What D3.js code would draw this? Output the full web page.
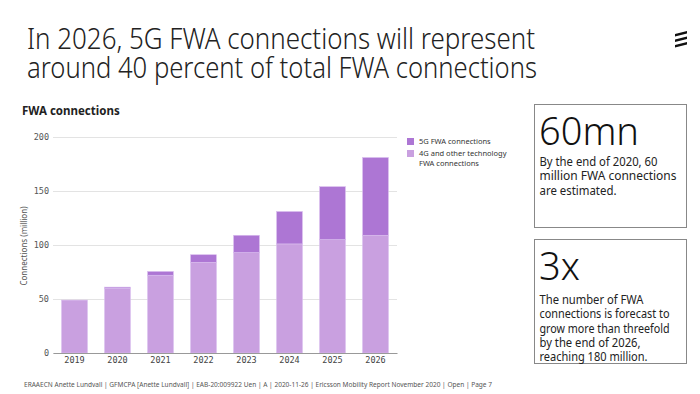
<!DOCTYPE html>
<html>
<head>
<meta charset="utf-8">
<script src="https://cdn.jsdelivr.net/npm/d3@7"></script>
<style>
  body { margin: 0; background: #fff; }
  text { font-family: "Noto Sans", sans-serif; }
  .mono { font-family: "DejaVu Sans Mono", monospace; }
</style>
</head>
<body>
<div id="my_dataviz"></div>
<script>
// data (million connections)
const years = ["2019", "2020", "2021", "2022", "2023", "2024", "2025", "2026"];
const fwa4g = [49, 60, 72, 84, 93, 101, 105, 109];
const fwa5g = [0, 1, 3.5, 7, 16, 30, 49, 72];
const yTicks = [0, 50, 100, 150, 200];
const seriesNames = ["5G FWA connections", "4G and other technology|FWA connections"];

const col5g = "#ad76d4", col4g = "#c9a0e0";

const svg = d3.select("#my_dataviz")
  .append("svg")
    .attr("width", 700)
    .attr("height", 394);

svg.append("rect").attr("width", 700).attr("height", 394).attr("fill", "#fff");

// headline (the original face is narrow, so squeeze to the same width)
const titleLines = [
  {s: "In 2026, 5G FWA connections will represent", y: 48.5, w: 508},
  {s: "around 40 percent of total FWA connections", y: 78, w: 510}
];
titleLines.forEach(function(l) {
  svg.append("text")
    .attr("x", 27)
    .attr("y", l.y)
    .attr("textLength", l.w)
    .attr("lengthAdjust", "spacingAndGlyphs")
    .style("font-size", "29px")
    .style("font-weight", 300)
    .attr("fill", "#222")
    .text(l.s);
});

// logo
const logo = svg.append("g").attr("transform", "translate(675,31)");
[0, 5.5, 11].forEach(function(dy) {
  logo.append("path")
    .attr("d", `M0,${dy + 3} L12,${dy} L12,${dy + 2.6} L0,${dy + 5.6} Z`)
    .attr("fill", "#111");
});

svg.append("text")
  .attr("x", 22).attr("y", 115)
  .style("font-size", "11.5px")
  .style("font-weight", 700)
  .attr("fill", "#222")
  .text("FWA connections");

// scales
const x = d3.scaleBand()
  .domain(years)
  .range([53, 397])
  .paddingInner(0.4)
  .paddingOuter(0.2);

const y = d3.scaleLinear()
  .domain([0, 200])
  .range([353, 137]);

// grid + y labels
const yAxis = svg.append("g")
  .attr("transform", "translate(53,0)")
  .call(d3.axisLeft(y).tickValues(yTicks).tickSize(-344).tickPadding(4));
yAxis.select(".domain").remove();
yAxis.selectAll(".tick line").attr("stroke", "#e3e3e3");
yAxis.selectAll(".tick text")
  .attr("class", "mono")
  .style("font-size", "8.5px")
  .attr("fill", "#555");

svg.append("text")
  .attr("transform", "translate(27,246) rotate(-90)")
  .attr("text-anchor", "middle")
  .style("font-size", "8px")
  .attr("fill", "#555")
  .text("Connections (million)");

// stacked bars
const rows = years.map(function(yr, i) { return {year: yr, g4: fwa4g[i], g5: fwa5g[i]}; });
const stack = d3.stack().keys(["g4", "g5"])(rows);
const colors = {g4: col4g, g5: col5g};

svg.append("g")
  .selectAll("g")
  .data(stack)
  .join("g")
    .attr("fill", function(d) { return colors[d.key]; })
  .selectAll("rect")
  .data(function(d) { return d.filter(function(s) { return s[1] - s[0] > 0; }); })
  .join("rect")
    .attr("x", function(d) { return x(d.data.year); })
    .attr("y", function(d) { return y(d[1]); })
    .attr("width", x.bandwidth())
    .attr("height", function(d) { return y(d[0]) - y(d[1]); })
    .attr("stroke", "#d9bdee")
    .attr("stroke-width", 0.6);

// x axis
const xAxis = svg.append("g")
  .attr("transform", "translate(0,353)")
  .call(d3.axisBottom(x).tickSize(0).tickPadding(4));
xAxis.select(".domain").attr("stroke", "#999");
xAxis.selectAll(".tick text")
  .attr("class", "mono")
  .style("font-size", "8.5px")
  .attr("fill", "#444");

// legend
const legend = svg.append("g");
[col5g, col4g].forEach(function(c, i) {
  legend.append("rect")
    .attr("x", 407).attr("y", 138 + i * 12)
    .attr("width", 7).attr("height", 7)
    .attr("fill", c);
  const t = legend.append("text")
    .attr("x", 419).attr("y", 144 + i * 12)
    .style("font-size", "7.5px")
    .attr("fill", "#333");
  seriesNames[i].split("|").forEach(function(s, j) {
    t.append("tspan").attr("x", 419).attr("dy", j ? 10 : 0).text(s);
  });
});

// fact boxes, each line with the width it has in the original
const boxes = [
  {y: 104.5, h: 123, big: "60mn", bigY: 145, lineY: 166,
   lines: [["By the end of 2020, 60", 118], ["million FWA connections", 137], ["are estimated.", 77]]},
  {y: 239.5, h: 124, big: "3x", bigY: 280, lineY: 304,
   lines: [["The number of FWA", 104], ["connections is forecast to", 130], ["grow more than threefold", 130],
           ["by the end of 2026,", 101], ["reaching 180 million.", 108]]}
];
boxes.forEach(function(b) {
  svg.append("rect")
    .attr("x", 534.5).attr("y", b.y)
    .attr("width", 152).attr("height", b.h)
    .attr("fill", "none")
    .attr("stroke", "#888");
  svg.append("text")
    .attr("x", 539).attr("y", b.bigY)
    .style("font-size", "38px")
    .style("font-weight", 300)
    .attr("fill", "#111")
    .text(b.big);
  b.lines.forEach(function(l, j) {
    svg.append("text")
      .attr("x", 539.5).attr("y", b.lineY + j * 14.3)
      .attr("textLength", l[1])
      .attr("lengthAdjust", "spacingAndGlyphs")
      .style("font-size", "12.5px")
      .attr("fill", "#222")
      .text(l[0]);
  });
});

// footer
svg.append("text")
  .attr("x", 24).attr("y", 387)
  .attr("textLength", 468)
  .attr("lengthAdjust", "spacingAndGlyphs")
  .style("font-size", "6.3px")
  .attr("fill", "#555")
  .text("ERAAECN Anette Lundvall  |  GFMCPA [Anette Lundvall]  |  EAB-20:009922 Uen  |  A  |  2020-11-26  |  Ericsson Mobility Report November 2020  |  Open  |  Page 7");
</script>
</body>
</html>
